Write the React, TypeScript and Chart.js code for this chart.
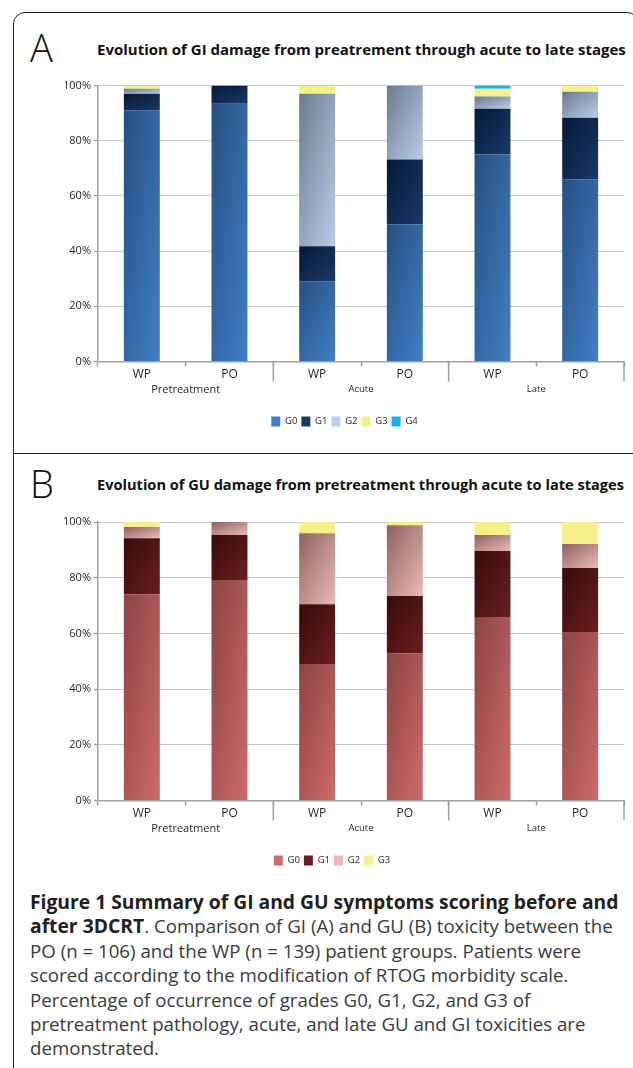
import React, { useEffect, useRef } from 'react';
import { Chart, registerables } from 'chart.js';

Chart.register(...registerables);

const FONT = '"Open Sans", "Noto Sans", sans-serif';
const INK = '#231f20';
const AXIS = '#a0a0a4';
const GRID = '#8c8c8c';

// ---- data ----
const categories = ['WP', 'PO', 'WP', 'PO', 'WP', 'PO'];
const groups = ['Pretreatment', 'Acute', 'Late'];
const groupFontSizes = [11, 9.5, 9.5];
const yTickValues = [0, 20, 40, 60, 80, 100];

const giGrades = ['G0', 'G1', 'G2', 'G3', 'G4'];
const giG0 = [91.0, 93.4, 29.1, 49.7, 75.0, 65.9];
const giG1 = [6.0, 6.6, 12.7, 23.5, 16.6, 22.4];
const giG2 = [1.8, 0, 55.2, 26.8, 4.4, 9.4];
const giG3 = [1.2, 0, 3.0, 0, 2.8, 2.3];
const giG4 = [0, 0, 0, 0, 1.2, 0];

const guGrades = ['G0', 'G1', 'G2', 'G3'];
const guG0 = [74.1, 79.2, 49.0, 52.9, 65.9, 60.5];
const guG1 = [20.1, 16.1, 21.5, 20.5, 23.7, 23.0];
const guG2 = [4.0, 4.7, 25.5, 25.4, 5.7, 8.6];
const guG3 = [1.8, 0, 4.0, 1.2, 4.7, 7.9];

// colours: [dark, light, legend]
const giColors = [
  ['#254f80', '#4180c6', '#3068a6'],
  ['#081a35', '#17396a', '#0f2a50'],
  ['#6c7b8d', '#b8cde8', '#9aaecb'],
  ['#f6f08a', '#f6f08a', '#f6f08a'],
  ['#18b2e6', '#18b2e6', '#18b2e6'],
];
const guColors = [
  ['#8a4444', '#cf6a6a', '#b05656'],
  ['#360c0c', '#6c1e1e', '#541616'],
  ['#8c6262', '#ebbab4', '#c89492'],
  ['#f6f08a', '#f6f08a', '#f6f08a'],
];

const BAR_FRAC = 0.41;

function makeFill(layers: number[][], d: number, dark: string, light: string, mid: string) {
  return (ctx: any) => {
    const chart = ctx.chart;
    if (ctx.type !== 'data' || !chart.chartArea || !chart.scales.x || !chart.scales.y) return mid;
    const xs = chart.scales.x;
    const ys = chart.scales.y;
    const i = ctx.dataIndex;
    let base = 0;
    for (let k = 0; k < d; k++) base += layers[k][i];
    const topPx = ys.getPixelForValue(base + layers[d][i]);
    const botPx = ys.getPixelForValue(base);
    const cw = (xs.right - xs.left) / categories.length;
    const w = cw * BAR_FRAC;
    const left = xs.getPixelForValue(i) - w / 2;
    const h = Math.max(botPx - topPx, 1);
    const k2 = (2 * w * h) / (h * h + w * w);
    const g = chart.ctx.createLinearGradient(left, topPx, left + h * k2, topPx + w * k2);
    g.addColorStop(0, dark);
    g.addColorStop(1, light);
    return g;
  };
}

const groupPlugin = {
  id: 'groupAxis',
  afterDraw(chart: any) {
    const xs = chart.scales.x;
    const ctx = chart.ctx;
    const y0 = chart.chartArea.bottom;
    const cw = (xs.right - xs.left) / categories.length;
    ctx.save();
    ctx.strokeStyle = AXIS;
    ctx.lineWidth = 1.5;
    groups.forEach((g, gi) => {
      const edge = xs.getPixelForValue(gi * 2 + 1) + cw / 2;
      ctx.beginPath();
      ctx.moveTo(edge, y0);
      ctx.lineTo(edge, y0 + 20);
      ctx.stroke();
      const cx = (xs.getPixelForValue(gi * 2) + xs.getPixelForValue(gi * 2 + 1)) / 2;
      ctx.fillStyle = INK;
      ctx.font = `${groupFontSizes[gi]}px ${FONT}`;
      ctx.textAlign = 'center';
      ctx.textBaseline = 'middle';
      ctx.fillText(g, cx, y0 + 28);
    });
    ctx.restore();
  },
};

type Props = {
  series: number[][];
  grades: string[];
  colors: string[][];
  top: number;
  height: number;
  padLeft: number;
  padTop: number;
  padBottom: number;
};

function StackChart({ series, grades, colors, top, height, padLeft, padTop, padBottom }: Props) {
  const ref = useRef<HTMLCanvasElement | null>(null);
  useEffect(() => {
    if (!ref.current) return;
    const chart = new Chart(ref.current, {
      type: 'bar',
      data: {
        labels: categories,
        datasets: series.map((data, d) => ({
          label: grades[d],
          data,
          backgroundColor: makeFill(series, d, colors[d][0], colors[d][1], colors[d][2]),
          borderWidth: 0,
          barPercentage: BAR_FRAC,
          categoryPercentage: 1,
          stack: 's',
        })),
      },
      options: {
        responsive: false,
        animation: false,
        devicePixelRatio: 1,
        layout: { padding: { left: padLeft, right: 9, top: padTop, bottom: padBottom } },
        plugins: {
          tooltip: { enabled: false },
          legend: {
            position: 'bottom',
            labels: {
              boxWidth: 9,
              boxHeight: 10,
              padding: 4,
              color: INK,
              font: { size: 9.5, family: FONT },
            },
          },
        },
        scales: {
          x: {
            stacked: true,
            offset: true,
            grid: {
              display: true,
              drawOnChartArea: false,
              drawTicks: true,
              tickLength: 5,
              tickColor: AXIS,
              tickWidth: 1.5,
              offset: true,
            },
            border: { display: true, color: AXIS, width: 1.5 },
            ticks: {
              color: INK,
              font: { size: 12, family: FONT },
              padding: 1,
              maxRotation: 0,
              autoSkip: false,
            },
            afterFit: (s: any) => {
              s.height = 51;
            },
          },
          y: {
            stacked: true,
            min: 0,
            max: 100,
            afterBuildTicks: (s: any) => {
              s.ticks = yTickValues.map((v) => ({ value: v }));
            },
            grid: {
              color: GRID,
              lineWidth: 1,
              tickLength: 4,
              tickColor: AXIS,
              tickWidth: 1.5,
            },
            border: { display: true, color: AXIS, width: 1.5, dash: [1, 1] },
            ticks: {
              color: INK,
              font: { size: 11, family: FONT },
              padding: 3,
              callback: (v: any) => `${v}%`,
            },
            afterFit: (s: any) => {
              s.width = 98 - padLeft;
            },
          },
        },
      },
      plugins: [groupPlugin],
    });
    return () => chart.destroy();
  }, []);
  return (
    <canvas
      ref={ref}
      width={633}
      height={height}
      style={{ position: 'absolute', left: 0, top, width: 633, height }}
    />
  );
}

const captionLines: [string, string][] = [
  ['Figure 1 Summary of GI and GU symptoms scoring before and', ''],
  ['after 3DCRT', '. Comparison of GI (A) and GU (B) toxicity between the'],
  ['', 'PO (n = 106) and the WP (n = 139) patient groups. Patients were'],
  ['', 'scored according to the modification of RTOG morbidity scale.'],
  ['', 'Percentage of occurrence of grades G0, G1, G2, and G3 of'],
  ['', 'pretreatment pathology, acute, and late GU and GI toxicities are'],
  ['', 'demonstrated.'],
];

export default function App() {
  const panelLetter: React.CSSProperties = {
    position: 'absolute',
    left: 30,
    fontSize: 38,
    lineHeight: '38px',
    fontFamily: FONT,
    fontWeight: 300,
    color: '#111',
  };
  const panelTitle: React.CSSProperties = {
    position: 'absolute',
    left: 97,
    height: 20,
    lineHeight: '20px',
    fontSize: 15,
    fontWeight: 700,
    fontFamily: FONT,
    color: '#111',
    whiteSpace: 'nowrap',
  };
  return (
    <div
      style={{
        position: 'absolute',
        left: 0,
        top: 0,
        width: 633,
        height: 1068,
        overflow: 'hidden',
        background: '#fff',
        fontFamily: FONT,
      }}
    >
      <div
        style={{
          position: 'absolute',
          left: 13,
          top: 12,
          width: 624,
          height: 1100,
          border: '1.5px solid #231f20',
          borderRadius: 12,
        }}
      />
      <div
        style={{ position: 'absolute', left: 13, top: 453, width: 640, borderTop: '1.5px solid #231f20' }}
      />
      <div style={{ ...panelLetter, top: 28 }}>A</div>
      <div style={{ ...panelTitle, top: 39 }}>
        Evolution of GI damage from preatrement through acute to late stages
      </div>
      <StackChart
        series={[giG0, giG1, giG2, giG3, giG4]}
        grades={giGrades}
        colors={giColors}
        top={70}
        height={367}
        padLeft={65}
        padTop={15.5}
        padBottom={0.5}
      />
      <div style={{ ...panelLetter, top: 464 }}>B</div>
      <div style={{ ...panelTitle, top: 474, fontSize: 14.6 }}>
        Evolution of GU damage from pretreatment through acute to late stages
      </div>
      <StackChart
        series={[guG0, guG1, guG2, guG3]}
        grades={guGrades}
        colors={guColors}
        top={506}
        height={370}
        padLeft={40}
        padTop={16}
        padBottom={0.5}
      />
      {captionLines.map(([b, r], i) => (
        <div
          key={i}
          style={{
            position: 'absolute',
            left: 30,
            top: 890 + i * 24.4,
            fontSize: 18.7,
            lineHeight: '24px',
            whiteSpace: 'nowrap',
            color: '#3b3b3b',
            fontFamily: FONT,
          }}
        >
          {b ? <b style={{ color: '#231f20', fontSize: 19.3 }}>{b}</b> : null}
          {r}
        </div>
      ))}
    </div>
  );
}
